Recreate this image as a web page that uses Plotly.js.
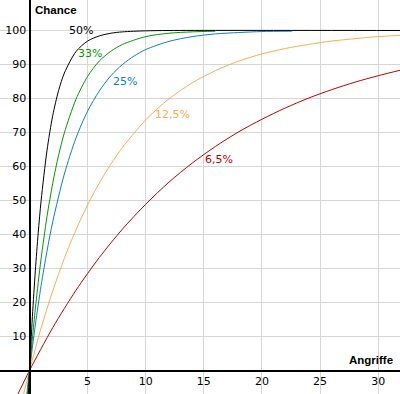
<!DOCTYPE html>
<html><head><meta charset="utf-8">
<script src="https://cdn.plot.ly/plotly-3.0.1.min.js"></script>
<style>html,body{margin:0;padding:0;background:#fff}#chart{width:400px;height:394px}</style>
</head><body><div id="chart"></div>
<script>
// Chance (%) by number of attacks (Angriffe)
const x50  = [-0.1, 0, 0.25, 0.5, 0.75, 1, 1.5, 2, 2.5, 3, 4, 5, 6, 7, 8, 10, 12, 32];
const y50  = [-7.2, 0, 15.9, 29.3, 40.5, 50, 64.6, 75, 82.3, 87.5, 93.8, 96.9, 98.4, 99.2, 99.6, 99.9, 100, 100];
const x33  = [-0.2, 0, 0.25, 0.5, 0.75, 1, 1.5, 2, 2.5, 3, 4, 5, 6, 7, 8, 10, 12, 14, 16];
const y33  = [-8.3, 0, 9.5, 18.1, 25.9, 33, 45.2, 55.1, 63.3, 69.9, 79.8, 86.5, 91, 93.9, 95.9, 98.2, 99.2, 99.6, 99.8];
const x25  = [-0.25, 0, 0.5, 1, 1.5, 2, 3, 4, 5, 6, 7, 8, 9, 10, 12, 14, 16, 18, 20, 22.6];
const y25  = [-7.5, 0, 13.4, 25, 35, 43.8, 57.8, 68.4, 76.3, 82.2, 86.7, 90, 92.5, 94.4, 96.8, 98.2, 99, 99.4, 99.7, 99.8];
const x125 = [-0.6, 0, 1, 2, 3, 4, 5, 6, 7, 8, 10, 12, 14, 16, 18, 20, 22, 24, 26, 28, 30, 32];
const y125 = [-8.3, 0, 12.5, 23.4, 33, 41.4, 48.7, 55.1, 60.7, 65.6, 73.7, 79.9, 84.6, 88.2, 91, 93.1, 94.7, 95.9, 96.9, 97.6, 98.2, 98.6];
const x65  = [-1.2, 0, 2, 4, 6, 8, 10, 12, 14, 16, 18, 20, 22, 24, 26, 28, 30, 32];
const y65  = [-8.4, 0, 12.6, 23.6, 33.2, 41.6, 48.9, 55.4, 61, 65.9, 70.2, 73.9, 77.2, 80.1, 82.6, 84.8, 86.7, 88.4];

const seriesNames = ['6,5%', '12,5%', '25%', '33%', '50%'];
const xTicks = [5, 10, 15, 20, 25, 30];
const yTicks = [10, 20, 30, 40, 50, 60, 70, 80, 90, 100];

const colors = {'50%':'#000000','33%':'#009900','25%':'#0a80c8','12,5%':'#ffaa55','6,5%':'#c00000'};
const data = [[x65,y65],[x125,y125],[x25,y25],[x33,y33],[x50,y50]].map((s,i)=>({
  type:'scatter', mode:'lines', x:s[0], y:s[1], name:seriesNames[i],
  line:{color:colors[seriesNames[i]], width:1, shape:'spline', smoothing:0.8},
  hoverinfo:'skip'
}));

const W=400, H=394;
const px = (x)=>x/W, py = (y)=>1-y/H;
const font = 'DejaVu Sans, Verdana, sans-serif';
const lbl = (t, cx, cy) => ({text:t, xref:'paper', yref:'paper', x:px(cx), y:py(cy),
  xanchor:'center', yanchor:'middle', showarrow:false,
  font:{family:font, size:11, color:colors[t]}});

const layout = {
  width:W, height:H, margin:{l:0,r:0,t:0,b:0},
  paper_bgcolor:'#ffffff', plot_bgcolor:'#ffffff', showlegend:false,
  xaxis:{range:[-2.539,31.88], anchor:'free', position:0.0596, tickvals:xTicks,
    showgrid:true, gridcolor:'#d6d6d6', gridwidth:1, zeroline:false,
    showline:true, linecolor:'#000', linewidth:2, ticks:'',
    tickfont:{family:font,size:11,color:'#000'}, fixedrange:true},
  yaxis:{range:[-6.91,108.97], anchor:'free', position:0.07375, tickvals:yTicks,
    showgrid:true, gridcolor:'#d6d6d6', gridwidth:1, zeroline:false,
    showline:true, linecolor:'#000', linewidth:2, ticks:'',
    tickfont:{family:font,size:11,color:'#000'}, fixedrange:true},
  annotations:[
    lbl('50%', 81.3, 30.7), lbl('33%', 89.5, 54), lbl('25%', 125.3, 81.7),
    lbl('12,5%', 172.5, 115), lbl('6,5%', 219, 159.7),
    {text:'<b>Chance</b>', xref:'paper', yref:'paper', x:px(33), y:py(10), xanchor:'left', yanchor:'middle',
      showarrow:false, font:{family:'Liberation Sans, Arial, sans-serif', size:11.5, color:'#000'}},
    {text:'<b>Angriffe</b>', xref:'paper', yref:'paper', x:px(395), y:py(360), xanchor:'right', yanchor:'middle',
      showarrow:false, font:{family:'Liberation Sans, Arial, sans-serif', size:11.5, color:'#000'}}
  ]
};
Plotly.newPlot('chart', data, layout, {displayModeBar:false, staticPlot:true});
</script></body></html>
